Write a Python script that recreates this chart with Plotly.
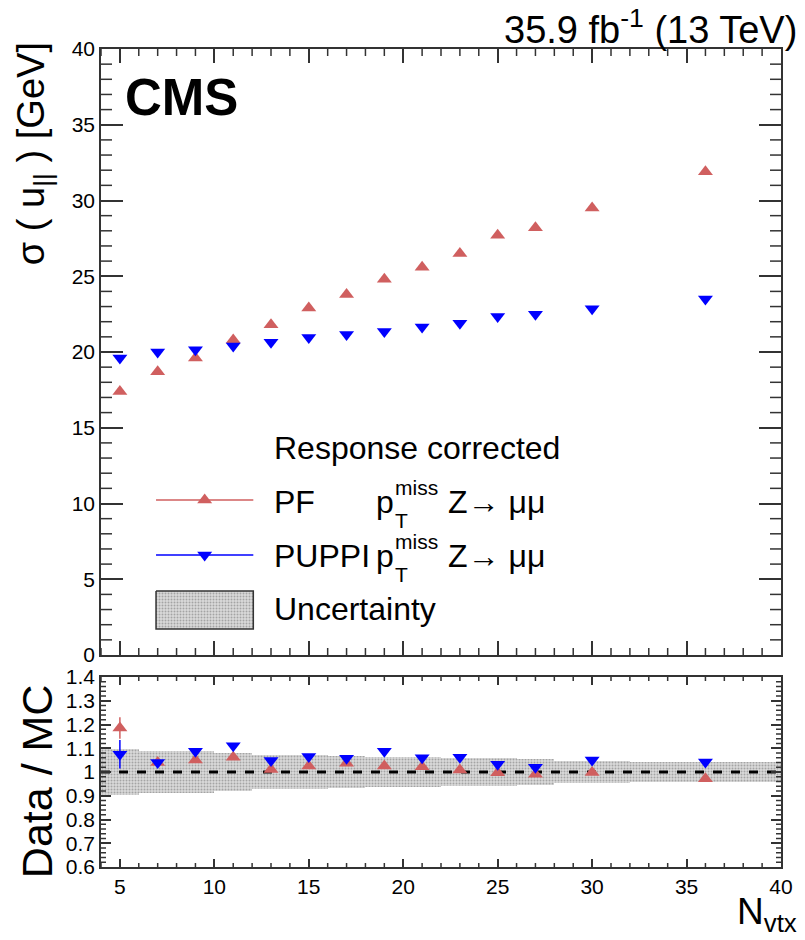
import plotly.graph_objects as go

# ---------------- data ----------------
nvtx = [5, 7, 9, 11, 13, 15, 17, 19, 21, 23, 25, 27, 30, 36]
pf_sigma = [17.4, 18.7, 19.6, 20.8, 21.8, 22.9, 23.8, 24.8, 25.6, 26.5, 27.7, 28.2, 29.5, 31.9]
puppi_sigma = [19.6, 20.0, 20.15, 20.4, 20.65, 20.95, 21.15, 21.35, 21.65, 21.9, 22.35, 22.5, 22.85, 23.5]

pf_ratio = [1.185, 1.04, 1.05, 1.062, 1.011, 1.025, 1.037, 1.025, 1.022, 1.008, 0.997, 0.99, 0.998, 0.972]
pf_ratio_err = [0.045, 0.015, 0.01, 0.01, 0.01, 0.01, 0.01, 0.01, 0.01, 0.01, 0.01, 0.01, 0.01, 0.01]
puppi_ratio = [1.075, 1.04, 1.087, 1.11, 1.048, 1.065, 1.058, 1.087, 1.06, 1.062, 1.033, 1.02, 1.05, 1.042]
puppi_ratio_err = [0.06, 0.01, 0.01, 0.01, 0.01, 0.01, 0.01, 0.01, 0.01, 0.01, 0.01, 0.01, 0.01, 0.01]

band_edges = [4, 6, 8, 10, 12, 14, 16, 18, 20, 22, 24, 26, 28, 32, 40]
band_halfwidth = [0.095, 0.09, 0.087, 0.08, 0.073, 0.072, 0.068, 0.065, 0.062, 0.06, 0.057, 0.056, 0.048, 0.042]

x_range = [4, 40]
main_y_range = [0, 40]
ratio_y_range = [0.6, 1.4]
ratio_ref = 1.0

# ---------------- style ----------------
FONT = "Liberation Sans, Arial, Helvetica, sans-serif"
RED = "#d05f5f"
BLUE = "#0000ff"
AX = "#333333"
BAND_BG = "#dadada"
BAND_FG = "#6e6e6e"

W, H = 805, 940
L, R, T, B = 101, 12, 49, 73
plot_h = H - T - B
main_bottom_px = 655
ratio_top_px = 677
main_dom = [(H - B - main_bottom_px) / plot_h, 1.0]
ratio_dom = [0.0, (H - B - ratio_top_px) / plot_h]

fig = go.Figure()

# uncertainty band (ratio)
centers = [(band_edges[i] + band_edges[i + 1]) / 2 for i in range(len(band_halfwidth))]
widths = [band_edges[i + 1] - band_edges[i] for i in range(len(band_halfwidth))]
fig.add_trace(go.Bar(
    x=centers, y=[2 * h for h in band_halfwidth], base=[ratio_ref - h for h in band_halfwidth],
    width=widths, xaxis="x2", yaxis="y2",
    marker=dict(color=BAND_BG, line=dict(width=0),
                pattern=dict(shape=".", fgcolor=BAND_FG, bgcolor=BAND_BG, size=3, solidity=0.35)),
    showlegend=False, hoverinfo="skip"))

# reference line at 1
fig.add_trace(go.Scatter(x=x_range, y=[ratio_ref, ratio_ref], xaxis="x2", yaxis="y2", mode="lines",
                         line=dict(color="black", width=3, dash="dash"), showlegend=False, hoverinfo="skip"))

# main panel
fig.add_trace(go.Scatter(x=nvtx, y=pf_sigma, mode="markers", xaxis="x", yaxis="y",
                         marker=dict(symbol="triangle-up", size=13, color=RED), showlegend=False))
fig.add_trace(go.Scatter(x=nvtx, y=puppi_sigma, mode="markers", xaxis="x", yaxis="y",
                         marker=dict(symbol="triangle-down", size=13, color=BLUE), showlegend=False))

# ratio panel
fig.add_trace(go.Scatter(x=nvtx, y=pf_ratio, mode="markers", xaxis="x2", yaxis="y2",
                         error_y=dict(type="data", array=pf_ratio_err, color=RED, thickness=1.5, width=0),
                         marker=dict(symbol="triangle-up", size=13, color=RED), showlegend=False))
fig.add_trace(go.Scatter(x=nvtx, y=puppi_ratio, mode="markers", xaxis="x2", yaxis="y2",
                         error_y=dict(type="data", array=puppi_ratio_err, color=BLUE, thickness=1.5, width=0),
                         marker=dict(symbol="triangle-down", size=13, color=BLUE), showlegend=False))

# ---------------- legend (pixel overlay axis) ----------------
leg_x0, leg_x1 = 157, 256
fig.add_trace(go.Scatter(x=[leg_x0, leg_x1], y=[500, 500], xaxis="x3", yaxis="y3", mode="lines",
                         line=dict(color=RED, width=1.5), showlegend=False, hoverinfo="skip"))
fig.add_trace(go.Scatter(x=[(leg_x0 + leg_x1) / 2], y=[500], xaxis="x3", yaxis="y3", mode="markers",
                         marker=dict(symbol="triangle-up", size=13, color=RED), showlegend=False, hoverinfo="skip"))
fig.add_trace(go.Scatter(x=[leg_x0, leg_x1], y=[555, 555], xaxis="x3", yaxis="y3", mode="lines",
                         line=dict(color=BLUE, width=1.5), showlegend=False, hoverinfo="skip"))
fig.add_trace(go.Scatter(x=[(leg_x0 + leg_x1) / 2], y=[555], xaxis="x3", yaxis="y3", mode="markers",
                         marker=dict(symbol="triangle-down", size=13, color=BLUE), showlegend=False, hoverinfo="skip"))
fig.add_trace(go.Scatter(x=[leg_x0, leg_x1, leg_x1, leg_x0, leg_x0], y=[591, 591, 629, 629, 591],
                         xaxis="x3", yaxis="y3", mode="lines", fill="toself", fillcolor=BAND_BG,
                         fillpattern=dict(shape=".", fgcolor=BAND_FG, bgcolor=BAND_BG, size=3, solidity=0.35),
                         line=dict(color="#333333", width=1.5), showlegend=False, hoverinfo="skip"))

annotations = []
def txt(x, y, s, size, xanchor="left", yanchor="middle", ref=("x3", "y3"), **kw):
    annotations.append(dict(x=x, y=y, xref=ref[0], yref=ref[1], text=s, showarrow=False,
                            xanchor=xanchor, yanchor=yanchor, font=dict(family=FONT, size=size, color="black"), **kw))

LEG = 32
txt(275, 448, "Response corrected", LEG)
for yc, lab in [(502, "PF"), (556, "PUPPI")]:
    txt(275, yc, lab, LEG)
    txt(379, yc, "p", LEG)
    txt(398, yc - 15, "miss", 21)
    txt(398, yc + 18, "T", 21)
    txt(452, yc, "Z\u2192 \u03bc\u03bc", LEG)
txt(275, 609, "Uncertainty", LEG)

# ---------------- header / titles (paper coords) ----------------
def px2paper(px, py):
    return (px - L) / (W - L - R), (H - B - py) / plot_h

cx, cy = px2paper(123, 98)
txt(cx, cy, "<b>CMS</b>", 51, ref=("paper", "paper"))
hx, hy = px2paper(811, 53)
txt(hx, hy, "35.9 fb<sup>-1</sup> (13 TeV)", 38, xanchor="right", yanchor="bottom", ref=("paper", "paper"))
yx, yy = px2paper(6, 40)
txt(yx, yy, "\u03c3 ( u<sub>||</sub> ) [GeV]", 38, xanchor="left", yanchor="top", ref=("paper", "paper"), textangle=-90)
dx, dy = px2paper(36, 781)
txt(dx, dy, "Data / MC", 43, xanchor="center", yanchor="middle", ref=("paper", "paper"), textangle=-90)
nx, ny = px2paper(811, 939)
txt(nx, ny, "N<sub>vtx</sub>", 37, xanchor="right", yanchor="bottom", ref=("paper", "paper"))

# ---------------- minor ticks (shapes placed through the axis scales) ----------------
shapes = []
def minor_x(xref, yref, vals, length):
    for v in vals:
        for y0, sign in ((0, 1), (1, -1)):
            shapes.append(dict(type="line", xref=xref, yref=yref + " domain", x0=v, x1=v,
                               ysizemode="pixel", yanchor=y0, y0=0, y1=sign * length,
                               line=dict(color=AX, width=1.5), layer="above"))

def minor_y(xref, yref, vals, length):
    for v in vals:
        for x0, sign in ((0, 1), (1, -1)):
            shapes.append(dict(type="line", xref=xref + " domain", yref=yref, y0=v, y1=v,
                               xsizemode="pixel", xanchor=x0, x0=0, x1=sign * length,
                               line=dict(color=AX, width=1.5), layer="above"))

x_minor_vals = [v for v in range(x_range[0], x_range[1] + 1) if v % 5 != 0]
main_y_minor_vals = [v for v in range(main_y_range[0], main_y_range[1] + 1) if v % 5 != 0]
ratio_y_minor_vals = [round(0.6 + 0.02 * i, 2) for i in range(41) if i % 5 != 0]

minor_x("x", "y", x_minor_vals, 7)
minor_y("x", "y", main_y_minor_vals, 11)
minor_x("x2", "y2", x_minor_vals, 4)
minor_y("x2", "y2", ratio_y_minor_vals, 5)

# ---------------- axes ----------------
common = dict(showline=True, linecolor=AX, linewidth=1.5, mirror="ticks", ticks="inside",
              tickcolor=AX, tickwidth=1.5, showgrid=False, zeroline=False,
              tickfont=dict(family=FONT, size=21, color="black"))

fig.update_layout(
    width=W, height=H, margin=dict(l=L, r=R, t=T, b=B),
    paper_bgcolor="white", plot_bgcolor="rgba(0,0,0,0)", barmode="overlay", bargap=0,
    showlegend=False, annotations=annotations, shapes=shapes,
    xaxis=dict(domain=[0, 1], range=x_range, anchor="y", tick0=5, dtick=5, ticklen=14,
               showticklabels=False, **common),
    yaxis=dict(domain=main_dom, range=main_y_range, anchor="x", tick0=0, dtick=5, ticklen=22, **common),
    xaxis2=dict(domain=[0, 1], range=x_range, anchor="y2", tick0=5, dtick=5, ticklen=8, **common),
    yaxis2=dict(domain=ratio_dom, range=ratio_y_range, anchor="x2", tick0=0.6, dtick=0.1, ticklen=10, **common),
    xaxis3=dict(range=[L, W - R], anchor="y3", overlaying="x", visible=False, fixedrange=True),
    yaxis3=dict(range=[main_bottom_px, T], anchor="x3", overlaying="y", visible=False, fixedrange=True),
)

fig.write_html("out.html", post_script="document.body.style.margin='0px';",
               config={"displayModeBar": False})
